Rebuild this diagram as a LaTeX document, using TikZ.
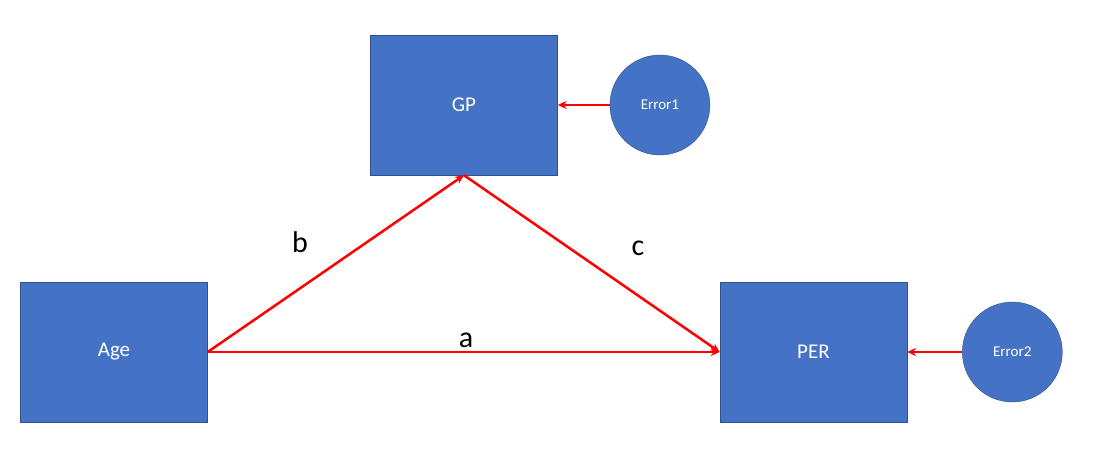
\documentclass[tikz,border=0pt]{standalone}
\usepackage{fontspec}
\setmainfont{Carlito}
\usetikzlibrary{arrows.meta,positioning}
\definecolor{boxblue}{HTML}{4472C4}
\definecolor{boxedge}{HTML}{2F528F}

\begin{document}
\begin{tikzpicture}[x=1pt,y=1pt,
    var/.style={draw=boxedge,fill=boxblue,minimum width=187pt,minimum height=140pt,
        text=white,font=\fontsize{21}{25}\selectfont,inner sep=0pt},
    err/.style={circle,draw=boxedge,fill=boxblue,minimum size=100pt,
        text=white,font=\fontsize{15}{18}\selectfont,inner sep=0pt},
    path/.style={draw=red,line width=2.5pt,-{Stealth[length=9pt,width=8pt]}},
    lbl/.style={font=\fontsize{30}{34}\selectfont}]
        \useasboundingbox (0,0) rectangle (1094,-453);
        \node[var] (age) at (114,-352) {Age};
        \node[var] (gp) at (464,-105) {GP};
        \node[var, right=512pt of age] (per) {PER};
        \node[err, right=52pt of gp] (err1) {Error1};
        \node[err, right=55pt of per] (err2) {Error2};
        \draw[path] (age.east) -- (gp.south);
        \draw[path] (gp.south) -- (per.west);
        \draw[path] (age.east) -- (per.west);
        \draw[path] (err1) -- (gp);
        \draw[path] (err2) -- (per);
        \node[lbl] (b) at (300,-242) {b};
        \node[lbl] (c) at (638,-248) {c};
        \node[lbl] (a) at (466,-340) {a};
    \end{tikzpicture}
\end{document}
